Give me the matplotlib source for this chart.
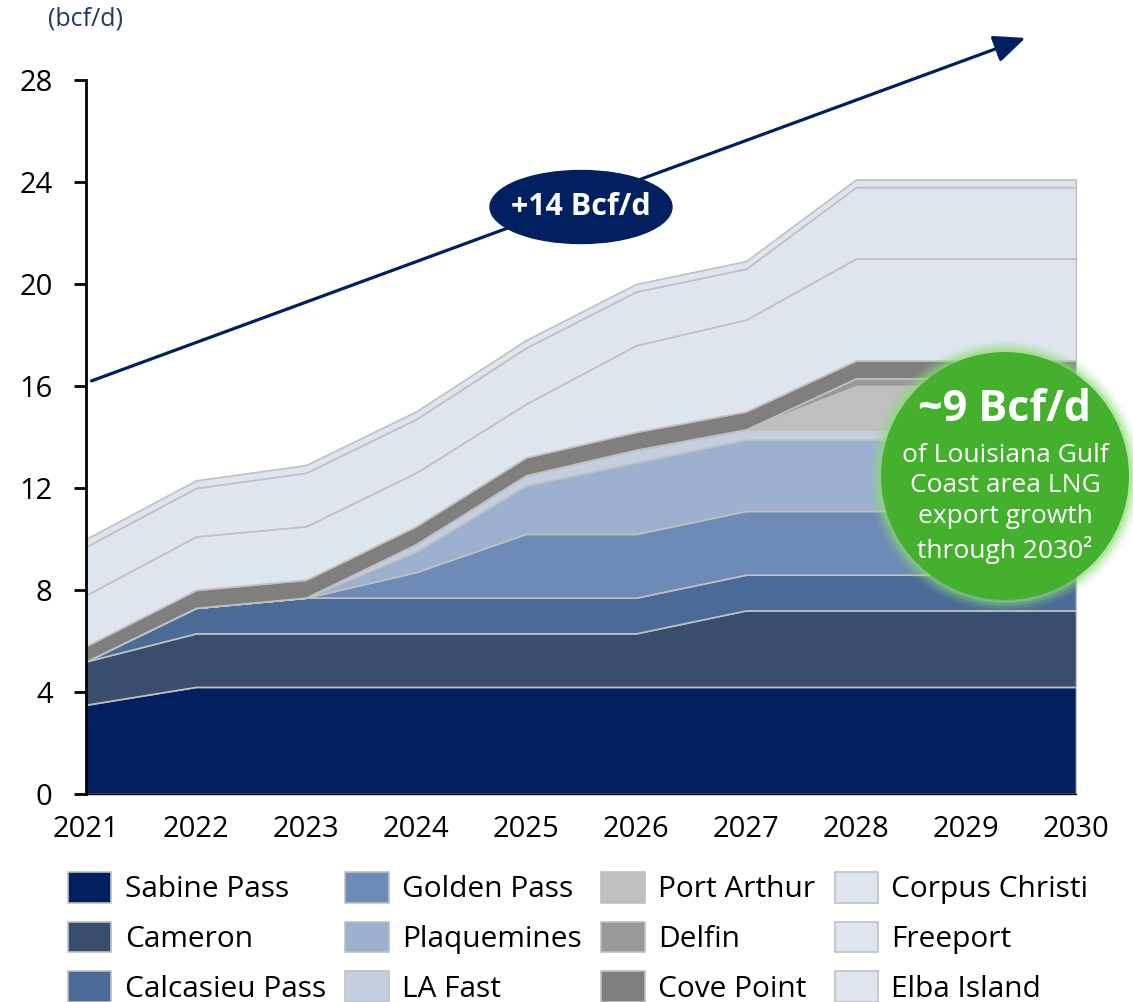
import matplotlib
matplotlib.use("Agg")
import matplotlib.pyplot as plt
from matplotlib.patches import Ellipse

years = [2021, 2022, 2023, 2024, 2025, 2026, 2027, 2028, 2029, 2030]

sabine_pass = [3.5, 4.2, 4.2, 4.2, 4.2, 4.2, 4.2, 4.2, 4.2, 4.2]
cameron = [1.7, 2.1, 2.1, 2.1, 2.1, 2.1, 3.0, 3.0, 3.0, 3.0]
calcasieu_pass = [0.0, 1.0, 1.4, 1.4, 1.4, 1.4, 1.4, 1.4, 1.4, 1.4]
golden_pass = [0.0, 0.0, 0.0, 1.0, 2.5, 2.5, 2.5, 2.5, 2.5, 2.5]
plaquemines = [0.0, 0.0, 0.0, 0.8, 1.9, 2.8, 2.8, 2.8, 2.8, 2.8]
la_fast = [0.0, 0.0, 0.0, 0.3, 0.4, 0.5, 0.4, 0.4, 0.4, 0.4]
port_arthur = [0.0, 0.0, 0.0, 0.0, 0.0, 0.0, 0.0, 1.7, 1.7, 1.7]
delfin = [0.0, 0.0, 0.0, 0.0, 0.0, 0.0, 0.0, 0.3, 0.3, 0.3]
cove_point = [0.6, 0.7, 0.7, 0.7, 0.7, 0.7, 0.7, 0.7, 0.7, 0.7]
corpus_christi = [2.0, 2.1, 2.1, 2.1, 2.1, 3.4, 3.6, 4.0, 4.0, 4.0]
freeport = [1.9, 1.9, 2.1, 2.1, 2.2, 2.1, 2.0, 2.8, 2.8, 2.8]
elba_island = [0.3, 0.3, 0.3, 0.3, 0.3, 0.3, 0.3, 0.3, 0.3, 0.3]

labels = ["Sabine Pass", "Cameron", "Calcasieu Pass", "Golden Pass", "Plaquemines",
          "LA Fast", "Port Arthur", "Delfin", "Cove Point", "Corpus Christi",
          "Freeport", "Elba Island"]
colors = ["#002060", "#394d6e", "#4a6a98", "#6d8bb7", "#9cb0cf", "#c3cee0",
          "#bfbfbf", "#999999", "#7f7f7f", "#dfe5ef", "#dfe5ef", "#dfe5ef"]

growth_label = "+14 Bcf/d"
la_label = "~9 Bcf/d"
la_text = "of Louisiana Gulf\nCoast area LNG\nexport growth\nthrough 2030²"

plt.rcParams["font.family"] = ["Open Sans", "DejaVu Sans"]

W, H = 1133, 1002
fig = plt.figure(figsize=(W / 100, H / 100), dpi=100)
ax = fig.add_axes([86 / W, 1 - 794 / H, (1076 - 86) / W, (794 - 80) / H])

polys = ax.stackplot(years, sabine_pass, cameron, calcasieu_pass, golden_pass,
                     plaquemines, la_fast, port_arthur, delfin, cove_point,
                     corpus_christi, freeport, elba_island,
                     labels=labels, colors=colors,
                     edgecolor="#c0c0c0", linewidth=1.2)

ax.set_xlim(2021, 2030)
ax.set_ylim(0, 28)
ax.set_yticks(range(0, 29, 4))
ax.set_xticks(years)
ax.tick_params(axis="y", labelsize=21, length=9, width=2, pad=15, direction="out")
ax.tick_params(axis="x", labelsize=21, length=0, pad=15)
for s in ["top", "right"]:
    ax.spines[s].set_visible(False)
ax.spines["left"].set_linewidth(2)
ax.spines["bottom"].set_linewidth(1)

fig.text(48 / W, 1 - 19 / H, "(bcf/d)", color="#1f3864", fontsize=18, va="center", ha="left")

# growth arrow
ax.annotate("", xy=(2029.54, 29.65), xytext=(2021.05, 16.2),
            arrowprops=dict(arrowstyle="-|>,head_length=0.8,head_width=0.35",
                            color="#002060", lw=2.3,
                            mutation_scale=24, shrinkA=0, shrinkB=0),
            annotation_clip=False)

fig.patches.append(Ellipse((581 / W, 1 - 207 / H), 182 / W, 73 / H,
                           transform=fig.transFigure, color="#002060", zorder=5))
fig.text(581 / W, 1 - 207 / H, growth_label, color="white", fontsize=22,
         fontweight="bold", ha="center", va="center", zorder=6)

# green bubble with glow
cx, cy, r = 1005, 476, 124
for k, a in [(12, 0.1), (9, 0.16), (6, 0.26), (3, 0.45)]:
    fig.patches.append(Ellipse((cx / W, 1 - cy / H), 2 * (r + k) / W, 2 * (r + k) / H,
                               transform=fig.transFigure, color="#8ddc78", alpha=a,
                               lw=0, zorder=5))
fig.patches.append(Ellipse((cx / W, 1 - cy / H), 2 * r / W, 2 * r / H,
                           transform=fig.transFigure, color="#45b02d", lw=0, zorder=5))
fig.text(cx / W, 1 - 410 / H, la_label, color="white", fontsize=31,
         fontweight="bold", ha="center", va="center", zorder=6)
fig.text(cx / W, 1 - 503 / H, la_text, color="white", fontsize=19,
         ha="center", va="center", linespacing=1.3, zorder=6)

fig.legend(polys, labels, ncol=4, loc="upper left",
           bbox_to_anchor=(68 / W, 1 - 872 / H), frameon=False,
           fontsize=21.5, handlelength=1.45, handleheight=1.2,
           handletextpad=0.45, columnspacing=0.65, labelspacing=0.58,
           borderpad=0, borderaxespad=0)

fig.savefig("out.png", dpi=100)
